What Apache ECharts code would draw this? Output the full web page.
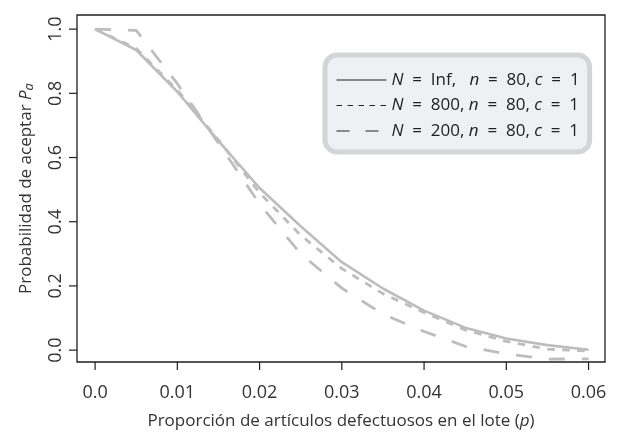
<!DOCTYPE html>
<html>
<head>
<meta charset="utf-8">
<script src="https://cdn.jsdelivr.net/npm/echarts@6/dist/echarts.min.js"></script>
<style>
  html, body { margin: 0; padding: 0; background: #fff; }
  #main { width: 621px; height: 435px; }
</style>
</head>
<body>
<div id="main"></div>
<script>
// proporcion defectuosa p
var pValues = [0, 0.005, 0.01, 0.015, 0.02, 0.025, 0.03, 0.035, 0.04, 0.045, 0.05, 0.055, 0.06];
// Pa para cada tamaño de lote
var paInf = [1.0, 0.935, 0.805, 0.652, 0.505, 0.386, 0.274, 0.192, 0.123, 0.070, 0.036, 0.0155, 0.001];
var pa800 = [1.0, 0.94, 0.81, 0.655, 0.49, 0.358, 0.254, 0.176, 0.117, 0.063, 0.027, 0.003, -0.003];
var pa200 = [1.0, 0.996, 0.83, 0.645, 0.455, 0.30, 0.193, 0.112, 0.058, 0.012, -0.012, -0.028, -0.027];

var seriesNames = ['inf', 'n800', 'n200'];
var legendTexts = [
  '{i|N}  =  Inf,   {i|n}  =  80, {i|c}  =  1',
  '{i|N}  =  800, {i|n}  =  80, {i|c}  =  1',
  '{i|N}  =  200, {i|n}  =  80, {i|c}  =  1'
];

var xTicks = [0, 0.01, 0.02, 0.03, 0.04, 0.05, 0.06];
var xTickLabels = ['0.0', '0.01', '0.02', '0.03', '0.04', '0.05', '0.06'];
var yTicks = [0, 0.2, 0.4, 0.6, 0.8, 1.0];
var yTickLabels = ['0.0', '0.2', '0.4', '0.6', '0.8', '1.0'];

var xMin = -0.0022, xMax = 0.062;
var yMin = -0.037, yMax = 1.044;

function pares(ys){
  var out = [];
  for (var i = 0; i < pValues.length; i++) {
    out.push([pValues[i], ys[i]]);
  }
  return out;
}
function buscar(ticks, labels, v){
  for (var i = 0; i < ticks.length; i++) {
    if (Math.abs(ticks[i] - v) < 1e-9) return labels[i];
  }
  return '';
}

var fuente = 'Open Sans';
var gris = '#bdbdbd';
var negro = '#1e1e1e';

// marcas de los ejes hacia fuera del recuadro (custom series, sin recorte)
function ticksX(params, api){
  var p = api.coord([api.value(0), api.value(1)]);
  return { type: 'line', shape: { x1: p[0], y1: p[1], x2: p[0], y2: p[1] + 8 },
           style: { stroke: negro, lineWidth: 1.2 } };
}
function ticksY(params, api){
  var p = api.coord([api.value(0), api.value(1)]);
  return { type: 'line', shape: { x1: p[0] - 8, y1: p[1], x2: p[0], y2: p[1] },
           style: { stroke: negro, lineWidth: 1.2 } };
}

var chart = echarts.init(document.getElementById('main'));
var option = {
  animation: false,
  grid: {
    left: 77, top: 15, right: 16, bottom: 72,
    show: true,
    borderColor: negro,
    borderWidth: 1.3,
    backgroundColor: 'transparent'
  },
  legend: {
    left: 325, top: 55,
    orient: 'vertical',
    padding: [15, 10, 11, 11],
    itemWidth: 50,
    itemHeight: 14,
    itemGap: 5.5,
    backgroundColor: '#eef0f3',
    borderColor: '#d3d5d8',
    borderWidth: 5,
    borderRadius: 12,
    textStyle: {
      fontFamily: fuente, fontSize: 17, color: '#222', lineHeight: 20,
      rich: { i: { fontFamily: fuente, fontSize: 17, fontStyle: 'italic', color: '#222' } }
    },
    formatter: function(name){
      return legendTexts[seriesNames.indexOf(name)];
    },
    data: [
      { name: 'inf', lineStyle: { color: '#222', width: 1, type: 'solid' }, itemStyle: { opacity: 0 } },
      { name: 'n800', lineStyle: { color: '#222', width: 1, type: [5.5, 5.5] }, itemStyle: { opacity: 0 } },
      { name: 'n200', lineStyle: { color: '#222', width: 1, type: [13, 16] }, itemStyle: { opacity: 0 } }
    ]
  },
  xAxis: {
    type: 'value',
    min: xMin, max: xMax,
    offset: 8,
    splitLine: { show: false },
    axisLine: { show: false, onZero: false },
    axisTick: { show: false },
    axisLabel: {
      customValues: xTicks,
      margin: 14,
      fontFamily: fuente, fontSize: 18, color: '#333',
      formatter: function(v){ return buscar(xTicks, xTickLabels, v); }
    },
    name: 'Proporción de artículos defectuosos en el lote ({i|p})',
    nameLocation: 'middle',
    nameGap: 42,
    nameTextStyle: {
      fontFamily: fuente, fontSize: 17, color: '#333', lineHeight: 18,
      rich: { i: { fontFamily: fuente, fontSize: 17, fontStyle: 'italic', color: '#333', lineHeight: 18 } }
    }
  },
  yAxis: {
    type: 'value',
    min: yMin, max: yMax,
    offset: 8,
    splitLine: { show: false },
    axisLine: { show: false, onZero: false },
    axisTick: { show: false },
    axisLabel: {
      customValues: yTicks,
      rotate: 90,
      margin: 4,
      fontFamily: fuente, fontSize: 18, color: '#333',
      formatter: function(v){ return buscar(yTicks, yTickLabels, v); }
    },
    name: 'Probabilidad de aceptar {i|P}{s|a}',
    nameLocation: 'middle',
    nameGap: 33,
    nameTextStyle: {
      fontFamily: fuente, fontSize: 17, color: '#333',
      rich: {
        i: { fontFamily: fuente, fontSize: 17, fontStyle: 'italic', color: '#333' },
        s: { fontFamily: fuente, fontSize: 13, fontStyle: 'italic', color: '#333', verticalAlign: 'bottom', padding: [6, 0, 0, 0] }
      }
    }
  },
  series: [
    { name: 'inf', type: 'line', data: pares(paInf), symbol: 'none', z: 3,
      lineStyle: { color: gris, width: 2.6, type: 'solid' } },
    { name: 'n800', type: 'line', data: pares(pa800), symbol: 'none', z: 2,
      lineStyle: { color: gris, width: 2.8, type: [7.5, 7.5] } },
    { name: 'n200', type: 'line', data: pares(pa200), symbol: 'none', z: 2,
      lineStyle: { color: gris, width: 2.8, type: [16, 17] } },
    { type: 'custom', clip: false, silent: true, z: 5,
      data: xTicks.map(function(v){ return [v, yMin]; }),
      renderItem: ticksX },
    { type: 'custom', clip: false, silent: true, z: 5,
      data: yTicks.map(function(v){ return [xMin, v]; }),
      renderItem: ticksY }
  ]
};
chart.setOption(option);
</script>
</body>
</html>
